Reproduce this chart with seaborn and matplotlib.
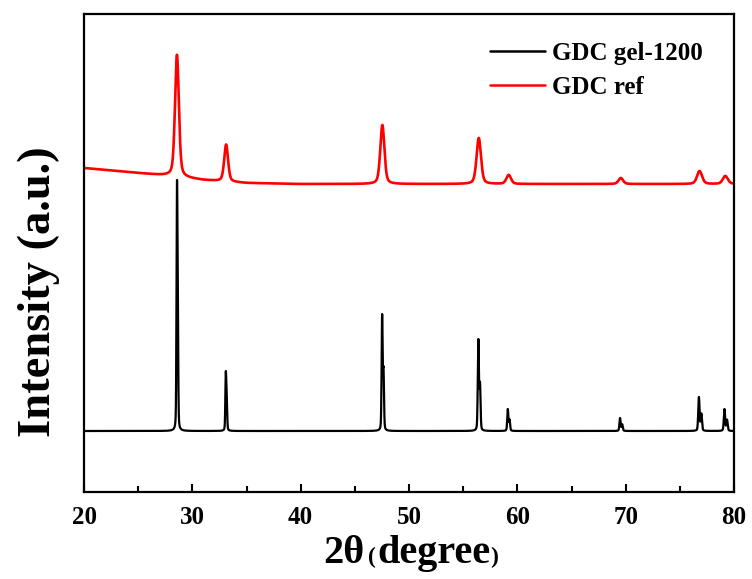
import numpy as np
import pandas as pd
import matplotlib
matplotlib.use("Agg")
import matplotlib.pyplot as plt
from matplotlib.ticker import MultipleLocator
import seaborn as sns

# Peak parameters of the two XRD patterns (2θ in degrees, intensity in a.u.)
gel_positions = [28.58, 33.09, 47.52, 56.40, 59.12, 69.48, 76.76, 79.12]
gel_heights = [251, 60, 117, 92, 22, 13, 34, 22]
gel_fwhm = [0.10, 0.10, 0.11, 0.12, 0.12, 0.13, 0.14, 0.14]
gel_baseline = 61

ref_positions = [28.58, 33.12, 47.54, 56.44, 59.20, 69.55, 76.82, 79.20]
ref_heights = [122, 37, 59, 46, 9, 6, 13, 8]
ref_fwhm = [0.42, 0.42, 0.45, 0.48, 0.50, 0.50, 0.55, 0.55]
ref_bg_x = [20, 22, 25, 28, 31, 35, 40, 50, 60, 70, 80]
ref_bg_y = [324, 322, 319, 316, 312, 309, 308, 308, 308, 308, 308]

labels = ["GDC gel-1200", "GDC ref"]
colors = ["#000000", "#ff0000"]
x_ticks = [20, 30, 40, 50, 60, 70, 80]

two_theta = np.linspace(20, 80, 6001)


def pseudo_voigt(x, center, fwhm, eta=0.5):
    sigma = fwhm / 2.3548
    gauss = np.exp(-0.5 * ((x - center) / sigma) ** 2)
    lorentz = 1.0 / (1.0 + ((x - center) / (fwhm / 2)) ** 2)
    return eta * lorentz + (1 - eta) * gauss


def ka2_position(two_theta_ka1):
    # Cu Kα2 / Kα1 wavelength ratio
    ratio = 1.54439 / 1.54056
    theta = np.radians(two_theta_ka1 / 2)
    return 2 * np.degrees(np.arcsin(ratio * np.sin(theta)))


gel = np.full_like(two_theta, gel_baseline, dtype=float)
for c, h, w in zip(gel_positions, gel_heights, gel_fwhm):
    doublet = (pseudo_voigt(two_theta, c, w, 0.3)
               + 0.5 * pseudo_voigt(two_theta, ka2_position(c), w, 0.3))
    gel += h * doublet / doublet.max()

ref = np.interp(two_theta, ref_bg_x, ref_bg_y).astype(float)
for c, h, w in zip(ref_positions, ref_heights, ref_fwhm):
    ref += h * pseudo_voigt(two_theta, c, w, 0.4)

df = pd.concat([
    pd.DataFrame({"2theta": two_theta, "intensity": gel, "sample": labels[0]}),
    pd.DataFrame({"2theta": two_theta, "intensity": ref, "sample": labels[1]}),
])

sns.set_theme(style="white")
plt.rcParams["font.family"] = ["Liberation Serif", "DejaVu Serif"]
plt.rcParams["font.weight"] = "bold"
plt.rcParams["text.color"] = "black"
plt.rcParams["xtick.color"] = "black"

fig = plt.figure(figsize=(7.52, 5.79), dpi=100)
ax = fig.add_axes([84 / 752, 87 / 579, 650 / 752, 478 / 579])

sns.lineplot(data=df, x="2theta", y="intensity", hue="sample",
             palette=dict(zip(labels, colors)), ax=ax, estimator=None,
             sort=False, linewidth=1.6)
for line, lw in zip(ax.get_lines(), [1.6, 1.9]):
    line.set_linewidth(lw)

ax.set_xlim(20, 80)
ax.set_ylim(0, 478)
ax.set_xticks(x_ticks)
ax.xaxis.set_minor_locator(MultipleLocator(5))
ax.set_yticks([])
ax.tick_params(axis="x", which="major", direction="in", length=6, width=1.5,
               labelsize=18, pad=10, colors="black", bottom=True)
ax.tick_params(axis="x", which="minor", direction="in", length=4, width=1.5,
               bottom=True)
for lab in ax.get_xticklabels():
    lab.set_fontweight("bold")
for spine in ax.spines.values():
    spine.set_visible(True)
    spine.set_color("black")
    spine.set_linewidth(1.6)

ax.set_xlabel("")
ax.set_ylabel("Intensity (a.u.)", fontsize=33.5, fontweight="bold",
              color="black")
ax.yaxis.set_label_coords(-(84 - 60) / 650, (492 - 292) / 478)

# x-axis title: large "2θ" with smaller parentheses around "degree"
fig.canvas.draw()
renderer = fig.canvas.get_renderer()
parts = [("2θ", 29, 0), ("(", 17, 4), ("degree", 29, 1), (")", 17, 0)]
x_px = 323
base_y = 1 - 563 / 579
for txt, size, gap in parts:
    x_px += gap
    t = fig.text(x_px / 752, base_y, txt, fontsize=size, fontweight="bold",
                 ha="left", va="baseline", color="black")
    x_px += t.get_window_extent(renderer).width

leg = ax.legend(loc="upper right", bbox_to_anchor=((703 - 84) / 650, (492 - 42) / 478),
                frameon=False, prop={"size": 18, "weight": "bold"},
                handlelength=2.2, handletextpad=0.3, labelspacing=0.42,
                borderaxespad=0, borderpad=0)
for h in leg.get_lines():
    h.set_linewidth(1.8)
for t in leg.get_texts():
    t.set_color("black")

fig.savefig("out.png", dpi=100, facecolor="white")
